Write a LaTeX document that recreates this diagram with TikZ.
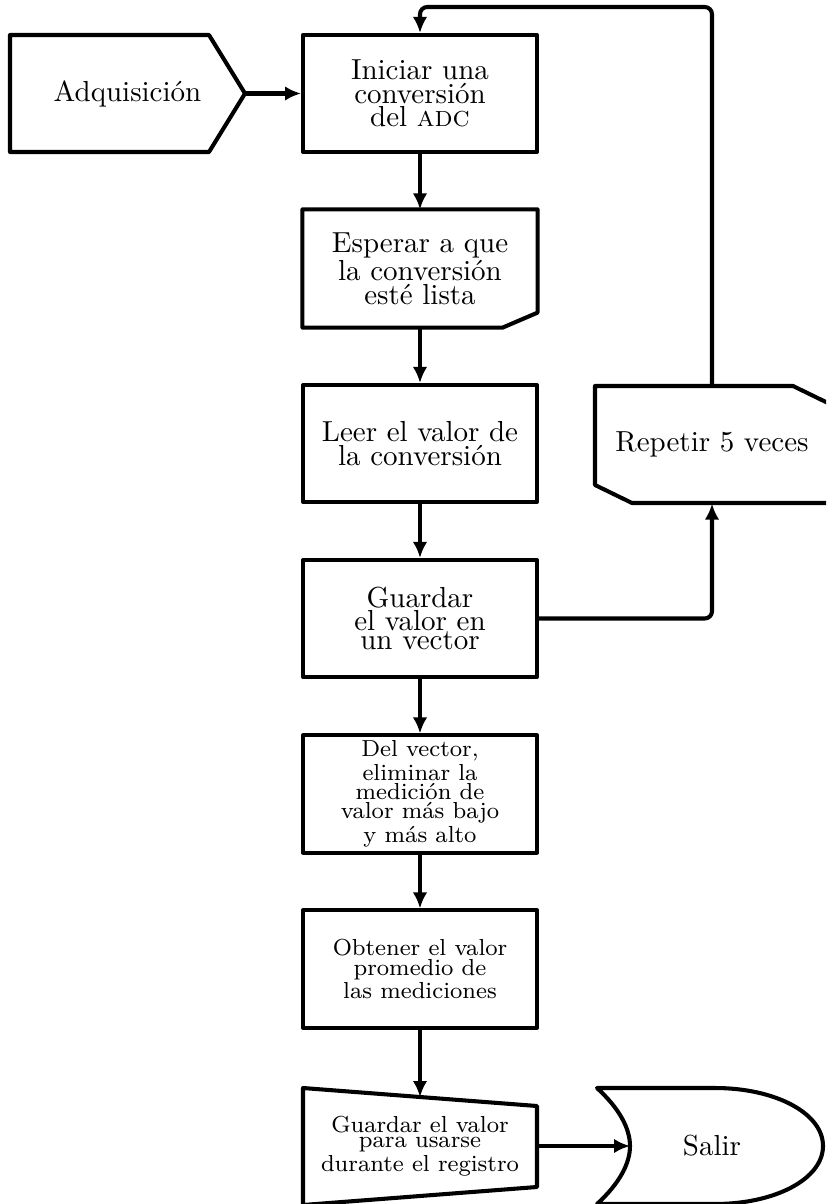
\documentclass[tikz,border=0pt]{standalone}
\usetikzlibrary{arrows.meta}
\tikzset{
  ln/.style={line width=1.4pt, line join=round},
  arr/.style={ln, -{Latex[length=5.5pt,width=5pt]}},
  box/.style={rectangle, minimum width=80.7pt, minimum height=40.4pt, inner sep=1pt,
              align=center, font=\fontsize{10}{6.5}\selectfont},
  boxd/.style={box, draw, ln},
  sbox/.style={box, font=\fontsize{8}{5.2}\selectfont},
  sboxd/.style={sbox, draw, ln},
}
\begin{document}
\begin{tikzpicture}[x=0.345pt,y=-0.345pt]
\clip (0,0) rectangle (826,1204);
\fill[white] (0,0) rectangle (826,1204);

% Adquisicion
\node[box] (adq) at (127.5,93.5) {Adquisici\'on};
\draw[ln] (10,35) -- (209,35) -- (245,93.5) -- (209,152) -- (10,152) -- cycle;
\coordinate (adqtip) at (245,93.5);

% main column
\node[boxd] (b1) at (420,93.5) {Iniciar una\\conversi\'on\\del \textsc{adc}};
\node[box] (b2) at (420,268.5) {Esperar a que\\la conversi\'on\\est\'e lista};
\draw[ln] (b2.north west) -- (b2.north east) -- ([yshift=15*0.345pt]b2.south east)
          -- ([xshift=-35*0.345pt]b2.south east) -- (b2.south west) -- cycle;
\node[boxd] (b3) at (420,443.5) {Leer el valor de\\la conversi\'on};
\node[boxd] (b4) at (420,618.5) {Guardar\\el valor en\\un vector};
\node[sboxd] (b5) at (420,794) {Del vector,\\eliminar la\\medici\'on de\\valor m\'as bajo\\y m\'as alto};
\node[sboxd] (b6) at (420,969) {Obtener el valor\\promedio de\\las mediciones};

% manual input trapezoid
\node[sbox] (trap) at (420,1146) {Guardar el valor\\para usarse\\durante el registro};
\draw[ln] (303,1088) -- (537,1106) -- (537,1187) -- (303,1205) -- cycle;
\coordinate (trapin) at (420,1097);

% Repetir
\node[box] (rep) at (712,444.5) {Repetir 5 veces};
\draw[ln] (595,386) -- (793,386) -- (830,404) -- (830,503) -- (632,503) -- (595,485) -- cycle;

% Salir
\node[box, minimum width=60pt] (salir) at (712,1146) {Salir};
\draw[ln] (597,1088) -- (715,1088)
  .. controls (775,1088) and (823,1113) .. (823,1146)
  .. controls (823,1179) and (775,1204) .. (715,1204)
  -- (597,1204)
  .. controls (620,1183) and (630,1163) .. (630,1146)
  .. controls (630,1129) and (620,1109) .. (597,1088) -- cycle;
\coordinate (salirin) at (630,1146);

% connectors
\draw[arr] (adqtip) -- (b1.west);
\draw[arr] (b1.south) -- (b2.north);
\draw[arr] (b2.south) -- (b3.north);
\draw[arr] (b3.south) -- (b4.north);
\draw[arr] (b4.south) -- (b5.north);
\draw[arr] (b5.south) -- (b6.north);
\draw[arr] (b6.south) -- (trapin);
\draw[arr] (trap.east) -- (salirin);
\draw[arr, rounded corners=2.5pt] (b4.east) -| (rep.south);
\draw[arr, rounded corners=2.5pt] (rep.north) -- (712,7) -- (420,7) -- (b1.north);
\end{tikzpicture}
\end{document}
